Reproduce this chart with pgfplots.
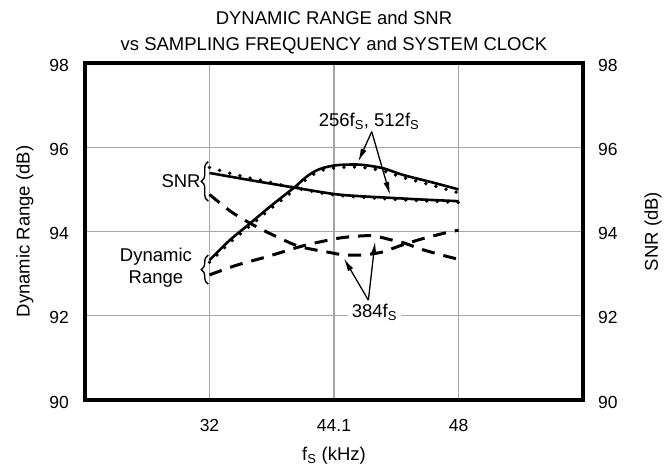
\documentclass[border=0pt]{standalone}
\usepackage{fontspec}
\setmainfont{Liberation Sans}
\usepackage{pgfplots}
\pgfplotsset{compat=1.18}
\usetikzlibrary{decorations.pathreplacing,arrows.meta}
\definecolor{gridgray}{gray}{0.65}
\begin{document}
\fontsize{18.5bp}{22bp}\selectfont
\begin{tikzpicture}
\useasboundingbox (-85bp,-68bp) rectangle (583bp,400bp);
\begin{axis}[
  at={(0,0)}, anchor=south west,
  scale only axis, width=498bp, height=337bp,
  xmin=0, xmax=4, ymin=90, ymax=98,
  xtick={1,2,3}, xticklabels={32,44.1,48},
  ytick={90,92,94,96,98},
  major tick length=0pt,
  grid=major,
  major grid style={gridgray, line width=1.2bp},
  axis line style={line width=3.3bp, line cap=rect},
  /pgf/number format/assume math mode=true,
  tick label style={font=\fontsize{17.5bp}{21bp}\selectfont, inner sep=0pt},
  xticklabel style={anchor=center, yshift=-25bp},
  yticklabel style={anchor=east, xshift=-16bp, yshift=-2bp},
  xlabel={f\textsubscript{S} (kHz)},
  xlabel style={at={(axis description cs:0.5,-0.166)}, anchor=center},
  ylabel={Dynamic Range (dB)},
  ylabel style={at={(axis description cs:-0.121,0.5)}, anchor=center},
  clip=false,
]
% 256fs/512fs SNR dotted
\addplot[smooth, line width=3.8bp, line cap=round, dash pattern=on 0bp off 10.5bp] coordinates {
(1.0,95.52) (1.18,95.37) (1.34,95.26) (1.5,95.16) (1.69,95.03) (2.0,94.87) (2.45,94.77) (3.0,94.69)};
% 256fs/512fs DR dotted
\addplot[smooth, line width=3.8bp, line cap=round, dash pattern=on 0bp off 10.5bp] coordinates {
(1.0,93.27) (1.165,93.74) (1.325,94.13) (1.486,94.53) (1.687,95.0) (1.75,95.17) (1.807,95.30) (1.86,95.40) (1.914,95.46) (2.008,95.51) (2.129,95.53) (2.235,95.52) (2.396,95.44) (2.557,95.28) (2.771,95.11) (3.0,94.92)};
% 256fs/512fs SNR solid
\addplot[smooth, line width=2.6bp] coordinates {
(1.0,95.39) (1.325,95.22) (1.687,95.04) (2.0,94.89) (2.2,94.84) (2.45,94.80) (2.7,94.76) (3.0,94.72)};
% 256fs/512fs DR solid
\addplot[smooth, line width=2.6bp] coordinates {
(1.0,93.32) (1.165,93.80) (1.325,94.19) (1.486,94.59) (1.687,95.06) (1.75,95.23) (1.807,95.36) (1.86,95.45) (1.914,95.51) (2.008,95.57) (2.129,95.59) (2.235,95.58) (2.396,95.50) (2.557,95.34) (2.771,95.18) (3.0,95.00)};
% 384fs SNR dashed
\addplot[smooth, line width=3bp, dash pattern=on 13bp off 9bp] coordinates {
(1.0,94.88) (1.178,94.46) (1.379,94.11) (1.566,93.84) (1.727,93.64) (1.968,93.50) (2.07,93.45) (2.23,93.44) (2.40,93.52) (2.50,93.63) (2.70,93.82) (2.90,93.97) (3.0,94.03)};
% 384fs DR dashed
\addplot[smooth, line width=3bp, dash pattern=on 13bp off 9bp] coordinates {
(1.0,92.97) (1.218,93.20) (1.46,93.40) (1.727,93.64) (1.914,93.77) (2.08,93.86) (2.30,93.90) (2.46,93.80) (2.57,93.72) (2.70,93.58) (2.88,93.43) (3.0,93.34)};
% braces and labels
\draw[decorate, decoration={brace, amplitude=7bp}, line width=1.4bp] (axis cs:0.99,94.72) -- (axis cs:0.99,95.66);
\draw[decorate, decoration={brace, amplitude=7bp}, line width=1.4bp] (axis cs:0.99,92.75) -- (axis cs:0.99,93.44);
\node[anchor=east, inner sep=0pt] at (axis cs:0.93,95.19) {SNR};
\node[align=center, inner sep=0pt] at (axis cs:0.57,93.15) {Dynamic\\Range};
% arrows 256/512
\node[anchor=base west, inner sep=0pt] at (axis cs:1.876,96.49) {256f\textsubscript{S}, 512f\textsubscript{S}};
\draw[-{Latex[length=13bp,width=6bp]}, line width=1.3bp] (axis cs:2.303,96.37) -- (axis cs:2.195,95.66);
\draw[-{Latex[length=13bp,width=6bp]}, line width=1.3bp] (axis cs:2.303,96.37) -- (axis cs:2.45,94.87);
% arrows 384
\draw[-{Latex[length=13bp,width=6bp]}, line width=1.3bp] (axis cs:2.276,92.37) -- (axis cs:2.08,93.36);
\draw[-{Latex[length=13bp,width=6bp]}, line width=1.3bp] (axis cs:2.276,92.37) -- (axis cs:2.33,93.76);
\node[anchor=base west, fill=white, inner xsep=4bp, inner ysep=2bp, xshift=-4bp] at (axis cs:2.141,91.96) {384f\textsubscript{S}};
% title
\node[anchor=base] at ([yshift=38.3bp]axis description cs:0.5,1) {DYNAMIC RANGE and SNR};
\node[anchor=base] at ([yshift=12.7bp]axis description cs:0.5,1) {vs SAMPLING FREQUENCY and SYSTEM CLOCK};
\end{axis}
\begin{axis}[
  at={(0,0)}, anchor=south west,
  scale only axis, width=498bp, height=337bp,
  xmin=0, xmax=4, ymin=90, ymax=98,
  axis y line*=right, axis x line=none,
  axis line style={draw=none},
  ytick={90,92,94,96,98},
  major tick length=0pt,
  /pgf/number format/assume math mode=true,
  tick label style={font=\fontsize{17.5bp}{21bp}\selectfont, inner sep=0pt},
  yticklabel style={anchor=west, xshift=15bp, yshift=-2bp},
  ylabel={SNR (dB)},
  ylabel style={at={(axis description cs:1.1406,0.5)}, anchor=center, rotate=0},
]
\addplot[draw=none] coordinates {(0,90)};
\end{axis}
\end{tikzpicture}
\end{document}
